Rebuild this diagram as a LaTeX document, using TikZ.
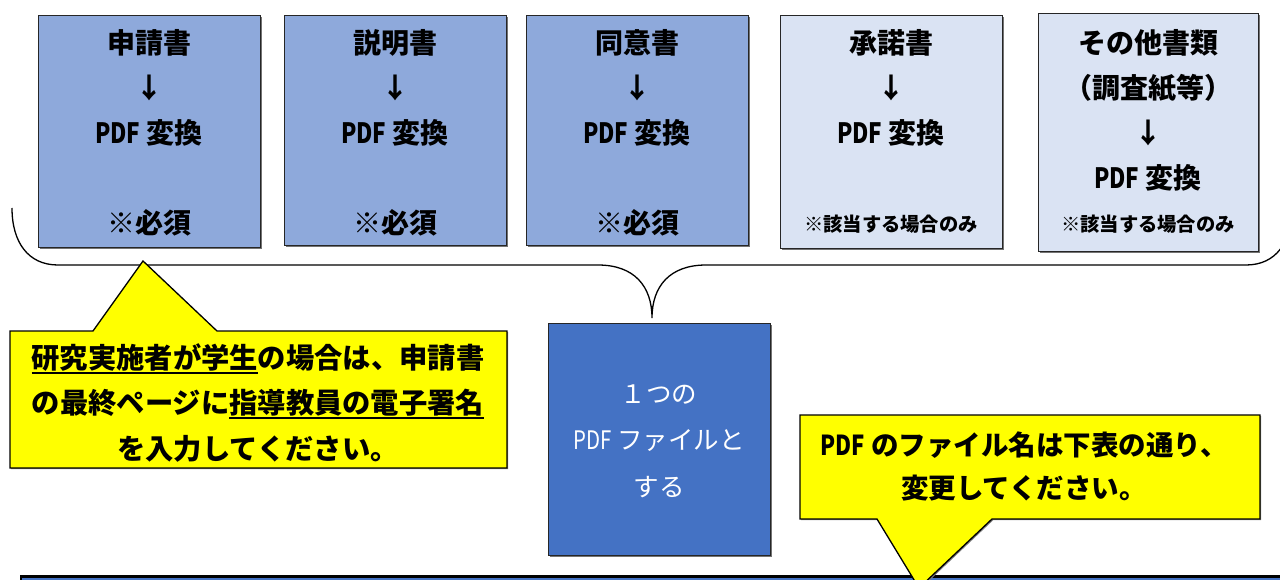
\documentclass[tikz,border=0pt]{standalone}
\usepackage{fontspec}
\setmainfont{Noto Sans CJK JP}
\usetikzlibrary{shadows}
\definecolor{midblue}{HTML}{8EA9DB}
\definecolor{paleblue}{HTML}{DAE3F3}
\definecolor{deepblue}{HTML}{4472C4}
\definecolor{callyellow}{HTML}{FFFF00}
\newcommand\ulx[1]{\vtop{\hbox{#1}\kern0.5pt\hrule height 1.7pt}}
\newcommand\PDFn{\scalebox{0.8}[1]{PDF}}
\begin{document}
\begin{tikzpicture}[x=1pt,y=-1pt,
  doc/.style={draw=black!85, line width=1.2pt, minimum width=222pt, minimum height=232pt,
    anchor=north west, inner sep=0pt,
    drop shadow={shadow xshift=1.2pt, shadow yshift=-1.5pt, fill=black!55, opacity=1}},
  big/.style={font=\fontsize{28}{44.8}\selectfont\bfseries, align=center, inner sep=0pt},
  note/.style={font=\fontsize{28.3}{45.5}\selectfont\bfseries, align=center, inner sep=0pt},
  small/.style={font=\fontsize{19.3}{22}\selectfont\bfseries, align=center, inner sep=0pt},
  callout/.style={draw=black, line width=1.3pt, fill=callyellow, line join=miter},
  brace/.style={draw=black, line width=1.3pt}]
\useasboundingbox (0,0) rectangle (1280,580);

% document boxes
\node[doc, fill=midblue, minimum height=232pt] (b1) at (38,15) {};
\node[doc, fill=midblue, minimum height=230pt] (b2) at (284,15) {};
\node[doc, fill=midblue, minimum height=230pt] (b3) at (526,15) {};
\node[doc, fill=paleblue, minimum height=233pt] (b4) at (780,15) {};
\node[doc, fill=paleblue, minimum width=220pt, minimum height=238pt] (b5) at (1038,13) {};

\node[big] (t1) at (149,88) {申請書\\↓\\\PDFn{} 変換};
\node[big] (n1) at (149,223) {※必須};
\node[big] (t2) at (395,88) {説明書\\↓\\\PDFn{} 変換};
\node[big] (n2) at (395,223) {※必須};
\node[big] (t3) at (637,88) {同意書\\↓\\\PDFn{} 変換};
\node[big] (n3) at (637,223) {※必須};
\node[big] (t4) at (891,88) {承諾書\\↓\\\PDFn{} 変換};
\node[small] (n4) at (891,224) {※該当する場合のみ};
\node[big] (t5) at (1148,110.5) {その他書類\\（調査紙等）\\↓\\\PDFn{} 変換};
\node[small] (n5) at (1148,224) {※該当する場合のみ};

% brace
\draw[brace] (12,208) .. controls (12,242) and (28,265) .. (58,265) -- (598,265)
  .. controls (634,265) and (652,286) .. (652,318)
  .. controls (652,286) and (670,265) .. (706,265) -- (1246,265)
  .. controls (1276,265) and (1292,242) .. (1292,208);

% merged file box
\node[doc, fill=deepblue, minimum width=222pt, minimum height=232pt] (m) at (548,323) {};
\node[font=\fontsize{25.5}{46.5}\selectfont, text=white, align=center, inner sep=0pt] (mt) at (659,441)
  {１つの\\\PDFn{} ファイルと\\する};

% bottom bar
\draw[line width=2.6pt, fill=deepblue] (21,576.3) rectangle (1300,640);

% callout left
\draw[callout, drop shadow={shadow xshift=1.2pt, shadow yshift=-1.2pt, fill=black!50, opacity=1}]
  (10,331) -- (93,331) -- (143,261) -- (217,331) -- (507,331) -- (507,468) -- (10,468) -- cycle;
\node[note] (c1) at (258,403)
  {\ulx{研究実施者が学生}の場合は、申請書\\の最終ページに\ulx{指導教員の電子署名}\\を入力してください。};

% callout right
\draw[callout, drop shadow={shadow xshift=1.2pt, shadow yshift=-1.2pt, fill=black!50, opacity=1}]
  (800,415) -- (1260,415) -- (1260,519) -- (992,519) -- (919,588) -- (877,519) -- (800,519) -- cycle;
\node[note, font=\fontsize{27.5}{43}\selectfont\bfseries] (c2) at (1024,466.5) {\PDFn{} のファイル名は下表の通り、\\変更してください。};
\end{tikzpicture}
\end{document}
